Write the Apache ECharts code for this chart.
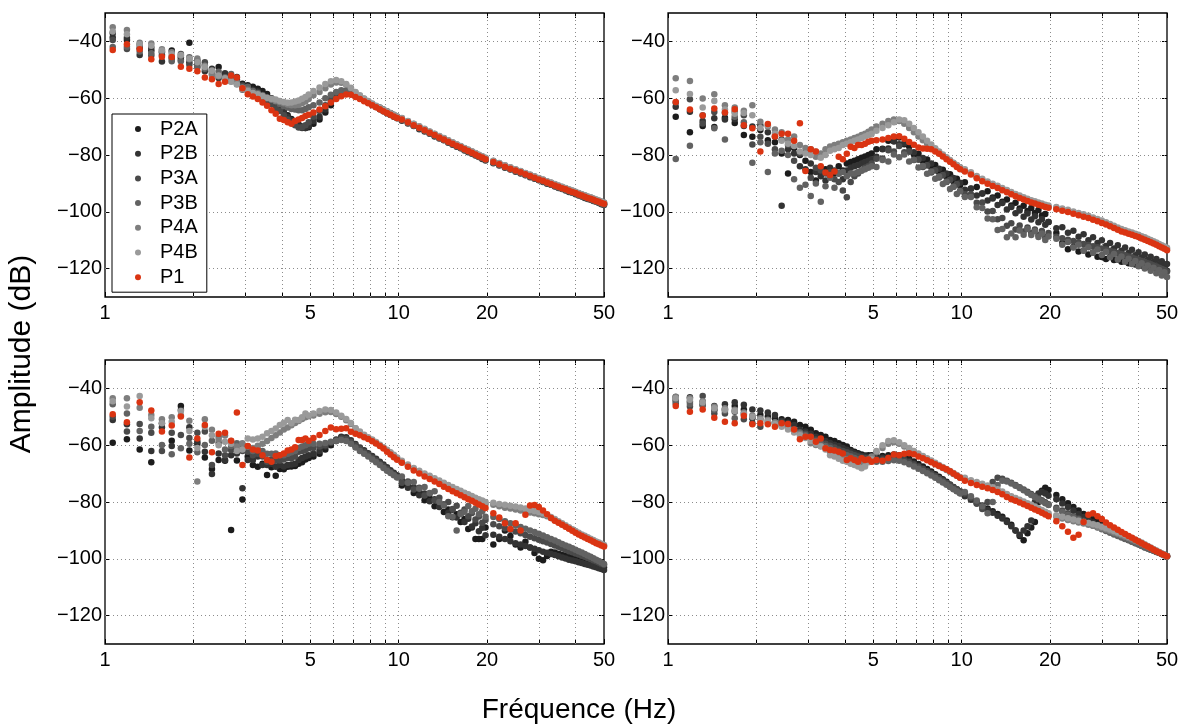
<!DOCTYPE html>
<html>
<head>
<meta charset="utf-8">
<script src="https://cdn.jsdelivr.net/npm/echarts@6/dist/echarts.min.js"></script>
<style>html,body{margin:0;padding:0;background:#fff}#c{width:1184px;height:724px}</style>
</head>
<body>
<div id="c"></div>
<script>
// Frequency grid (Hz) shared by every series
const freq = [1.0625,1.1875,1.3125,1.4375,1.5625,1.6875,1.8125,1.9375,2.0625,2.1875,2.3125,2.4375,2.5625,2.6875,2.8125,2.9375,3.0625,3.1875,3.3125,3.4375,3.5625,3.6875,3.8125,3.9375,4.0625,4.1875,4.3125,4.4375,4.5625,4.6875,4.8125,4.9375,
5.125,5.375,5.625,5.875,6.125,6.375,6.625,6.875,7.125,7.375,7.625,7.875,8.125,8.375,8.625,8.875,9.125,9.375,9.625,9.875,
10.25,10.75,11.25,11.75,12.25,12.75,13.25,13.75,14.25,14.75,15.25,15.75,16.25,16.75,17.25,17.75,18.25,18.75,19.25,19.75,
21,22,23,24,25,26,27,28,29,30,31,32,33,34,35,36,37,38,39,40,41,42,43,44,45,46,47,48,49,50];

const seriesNames = ['P2A','P2B','P3A','P3B','P4A','P4B','P1'];
const xTickValues = [1,2,3,4,5,6,7,8,9,10,20,30,40,50];
const xGridValues = [2,3,4,5,6,7,8,9,10,20,30,40];
const xLabelValues = [1,5,10,20,50];
const yTickValues = [-120,-100,-80,-60,-40];

// ---------- Panel top-left ----------
const tl_P2A = [-37,-39.5,-42.4,-43.2,-44.8,-43.2,-45.6,-40.5,-47.8,-48.3,-50.7,-49,-52.1,-53,-53.5,-54.9,-55.4,-56,-56.7,-57.5,-58.5,-60,-61.8,-63,-64.5,-66,-67.3,-68.3,-69.3,-70,-70.5,-70.2,
-69,-67.5,-65,-62.5,-60,-58,-57.4,-58,-59,-59.9,-60.7,-61.5,-62.3,-63,-63.7,-64.4,-65,-65.6,-66.2,-66.8,
-67.6,-68.4,-69.6,-70.4,-71.2,-72.3,-73,-73.7,-74.6,-75.3,-75.9,-76.8,-77.3,-77.9,-78.7,-79.2,-79.7,-80.5,-80.9,-81.4,
-82.6,-83.3,-84,-84.9,-85.5,-86,-86.9,-87.4,-87.9,-88.7,-89.1,-89.6,-90.3,-90.7,-91.1,-91.8,-92.1,-92.5,-93.1,-93.4,-93.8,-94.4,-94.7,-95,-95.5,-95.8,-96.1,-96.6,-96.9,-97.3];
const tl_P2B = [-38.5,-38.7,-44.8,-42.2,-47.1,-45.5,-46.5,-47.3,-46.7,-50.5,-49.6,-52.9,-51.2,-54,-52.5,-56,-56.5,-57,-57.6,-58.8,-59.6,-60.6,-62,-64,-65,-66.5,-67.8,-68.8,-69.8,-70.5,-70.5,-69.8,
-68,-66.5,-64,-61.5,-59.5,-58.2,-57.7,-58.2,-59.2,-60,-60.8,-61.6,-62.4,-63.1,-63.9,-64.6,-65.3,-65.9,-66.5,-67.1,
-67.9,-68.9,-69.8,-70.9,-71.7,-72.5,-73.5,-74.2,-74.8,-75.7,-76.4,-77.1,-77.6,-78.4,-79,-79.6,-80.2,-80.7,-81.4,-81.9,
-82.9,-83.7,-84.5,-85.1,-85.9,-86.5,-87.1,-87.8,-88.4,-88.9,-89.5,-90.1,-90.5,-91.1,-91.6,-92,-92.5,-93,-93.3,-93.8,-94.3,-94.6,-95.1,-95.5,-95.8,-96.2,-96.5,-96.9,-97.3,-97.6];
const tl_P3A = [-39.5,-42.7,-41.3,-45,-43.6,-46.2,-44.4,-48.2,-48.9,-47.3,-51.5,-51.8,-53,-52.3,-55,-55.5,-57.4,-58,-58.8,-59.5,-61,-62,-63.5,-64.5,-66,-67.5,-68.5,-69.5,-70.3,-70.2,-69.5,-68.5,
-66.5,-64.5,-62.5,-60.5,-59,-58.2,-57.8,-58.2,-59.1,-59.9,-60.7,-61.4,-62.2,-62.9,-63.3,-64,-64.6,-65.2,-65.8,-66.4,
-67.1,-68.1,-69.1,-70,-70.9,-71.8,-72.6,-73.4,-74.1,-74.9,-75.6,-76.3,-76.9,-77.6,-78.2,-78.8,-79.4,-80,-80.5,-81.1,
-82.1,-82.9,-83.7,-84.4,-85.1,-85.7,-86.4,-87,-87.6,-88.2,-88.7,-89.3,-89.8,-90.3,-90.8,-91.3,-91.7,-92.2,-92.6,-93,-93.5,-93.9,-94.3,-94.7,-95,-95.4,-95.8,-96.1,-96.5,-96.8];
const tl_P3B = [-42,-41.9,-43.6,-44.2,-43.8,-47,-47,-45.6,-49,-49.6,-50.2,-50.7,-52.6,-51.5,-54.2,-57,-56,-57.5,-58.2,-59,-59.8,-60.5,-61.2,-62,-62.8,-63.3,-63.8,-64,-64.2,-64.2,-63.8,-63.2,
-62.5,-61.5,-60,-58.8,-57.8,-57.2,-57.4,-58.2,-59.2,-60,-60.8,-61.5,-62.3,-63,-63.9,-64.6,-65.2,-65.8,-66.4,-67,
-67.7,-68.7,-69.7,-70.6,-71.5,-72.4,-73.2,-74,-74.7,-75.5,-76.2,-76.9,-77.5,-78.2,-78.8,-79.4,-80,-80.6,-81.1,-81.7,
-82.7,-83.5,-84.3,-85,-85.7,-86.3,-87,-87.6,-88.2,-88.8,-89.3,-89.9,-90.4,-90.9,-91.4,-91.9,-92.3,-92.8,-93.2,-93.6,-94.1,-94.5,-94.9,-95.3,-95.6,-96,-96.4,-96.7,-97.1,-97.4];
const tl_P4A = [-35,-36,-40.5,-40.7,-42.8,-43.8,-45,-46.3,-46,-48.6,-51.8,-52.3,-53.5,-53.8,-54.6,-56.2,-57,-58.4,-59,-59.4,-60,-60.5,-61,-61.3,-61.8,-62.2,-62.5,-62.5,-62.3,-61.8,-61.2,-60.3,
-59,-57.8,-56.5,-55.2,-54.5,-54.6,-55.3,-56.5,-58,-59.2,-60.2,-61.1,-62,-62.8,-63.5,-64.2,-64.8,-65.4,-66,-66.6,
-67.3,-68.3,-69.3,-70.2,-71.1,-72,-72.8,-73.6,-74.3,-75.1,-75.8,-76.5,-77.1,-77.8,-78.4,-79,-79.6,-80.2,-80.7,-81.3,
-82.3,-83.1,-83.9,-84.6,-85.3,-85.9,-86.6,-87.2,-87.8,-88.4,-88.9,-89.5,-90,-90.5,-91,-91.5,-91.9,-92.4,-92.8,-93.2,-93.7,-94.1,-94.5,-94.9,-95.2,-95.6,-96,-96.3,-96.7,-97];
const tl_P4B = [-36.5,-37.5,-41,-41.5,-43.2,-44.5,-44.8,-46,-47.3,-49,-50.3,-52,-53,-54.2,-55.2,-56.8,-57.5,-58.2,-58.6,-59.2,-59.8,-60.2,-60.5,-61,-61.3,-61.6,-61.5,-61.2,-60.8,-60.2,-59.6,-58.7,
-57.5,-56.2,-55,-54,-53.6,-54,-55,-56.3,-57.8,-59,-60.1,-61,-61.9,-62.7,-63.4,-64.1,-64.7,-65.3,-65.9,-66.5,
-67,-68,-69,-69.9,-70.8,-71.7,-72.5,-73.3,-74,-74.8,-75.5,-76.2,-76.8,-77.5,-78.1,-78.7,-79.3,-79.9,-80.4,-81,
-82,-82.8,-83.6,-84.3,-85,-85.6,-86.3,-86.9,-87.5,-88.1,-88.6,-89.2,-89.7,-90.2,-90.7,-91.2,-91.6,-92.1,-92.5,-92.9,-93.4,-93.8,-94.2,-94.6,-94.9,-95.3,-95.7,-96,-96.4,-96.7];
const tl_P1 = [-43,-41,-42.8,-46.3,-45.4,-45.5,-48.9,-49.6,-50.5,-52.7,-53.3,-55,-54.2,-52,-52.7,-56.5,-58.6,-59.4,-60.3,-61.5,-62.7,-64.2,-65.5,-67.2,-67.7,-68.5,-69,-68,-67.5,-67,-66.3,-65.8,
-65,-64,-62.8,-61.5,-60.3,-59.3,-58.7,-58.8,-59.6,-60.3,-61.1,-61.8,-62.5,-63.2,-63.9,-64.6,-65.2,-65.8,-66.4,-67,
-67.5,-68.5,-69.5,-70.4,-71.3,-72.2,-73,-73.8,-74.5,-75.3,-76,-76.7,-77.3,-78,-78.6,-79.2,-79.8,-80.4,-80.9,-81.5,
-82.5,-83.3,-84.1,-84.8,-85.5,-86.1,-86.8,-87.4,-88,-88.6,-89.1,-89.7,-90.2,-90.7,-91.2,-91.7,-92.1,-92.6,-93,-93.4,-93.9,-94.3,-94.7,-95.1,-95.4,-95.8,-96.2,-96.5,-96.9,-97.2];

// ---------- Panel top-right ----------
const tr_P2A = [-66.5,-72,-69.8,-70.1,-66.9,-68.7,-73,-73.6,-71.2,-74.8,-75.5,-79.5,-86.5,-77.5,-80,-82,-86,-89,-86.5,-85,-87.5,-86.5,-84,-85.5,-83,-82.5,-82,-81.5,-81,-80.5,-80,-79.5,
-78,-77.8,-75,-75.2,-73.8,-76.2,-77,-79.8,-79.6,-82.2,-81.6,-84.2,-83.5,-86,-85.2,-87.5,-86.8,-89.2,-88.4,-90.6,
-89.6,-91.9,-91.3,-93.6,-92.8,-95,-94.3,-96.5,-95.7,-97.8,-96.8,-98.8,-97.9,-99.7,-98.7,-100.4,-99.4,-101.3,-100.8,-103.6,
-107.5,-111,-113.2,-112.4,-114,-113.6,-115,-114.3,-115.8,-115.9,-116.6,-115.8,-117,-116.8,-117.6,-117.2,-118.1,-117.8,-118.6,-118.3,-119,-118.7,-119.4,-119.1,-119.8,-119.5,-120.3,-120,-120.6,-120.8];
const tr_P2B = [-63,-64.8,-68,-67.1,-67.5,-67.4,-69.8,-70,-69.5,-72,-73.5,-97.9,-78,-79.5,-84,-85,-83,-86,-87.5,-89,-84.5,-85.5,-86.5,-88.5,-85.5,-84.5,-84,-83.5,-83,-82.5,-82,-81.5,
-80.6,-78,-77.7,-75.2,-76.2,-75.9,-78.8,-79,-81.6,-81.1,-83.6,-83,-85.4,-84.8,-87.1,-86.5,-88.8,-88.1,-90.4,-89.8,
-92.2,-91.8,-94.3,-93.6,-96,-95.3,-97.6,-96.9,-99.2,-98.3,-100.5,-99.5,-101.7,-100.6,-102.7,-101.6,-103.7,-102.6,-104.6,-103.6,
-105.8,-105.4,-107.4,-106.7,-108.8,-107.9,-110,-109,-111,-110,-112,-111,-112.9,-111.8,-113.7,-112.6,-114.5,-113.4,-115.3,-114.2,-116.1,-115,-116.9,-115.8,-117.7,-116.6,-118.5,-117.4,-119.2,-118.4];
const tr_P3A = [-61.5,-60.4,-68.9,-64.9,-65.1,-64.8,-66,-76.3,-73.6,-76,-78,-74.5,-76.5,-82,-79.5,-79,-88,-84.5,-85.5,-86.5,-86,-88.5,-89.5,-92.5,-94.9,-89.5,-87.5,-86.5,-85.5,-84.5,-84,-83,
-81.3,-81.2,-78.3,-78.8,-76.8,-79,-78.8,-81.8,-81.6,-84.2,-83.6,-86.2,-85.4,-87.9,-87,-89.5,-88.7,-91.2,-90.2,-92.6,
-93.8,-93.8,-96.8,-96.7,-99.9,-99.7,-102.6,-102.2,-104.9,-104,-106.2,-104.8,-106.9,-105.5,-107.5,-106.2,-108.2,-106.8,-108.9,-107.5,
-108.8,-109.3,-109.8,-110.3,-110.8,-111.3,-111.7,-112.1,-112.5,-112.9,-113.3,-113.7,-114.1,-114.5,-114.9,-115.3,-115.7,-116.1,-116.5,-116.9,-117.3,-117.7,-118.1,-118.5,-118.9,-119.3,-119.7,-120.1,-120.5,-121];
const tr_P3B = [-81.4,-76.7,-66,-70.6,-74.5,-66.5,-68.5,-82.7,-75.5,-86,-79.5,-78.5,-80,-88.5,-91.5,-90.5,-94.4,-90,-96.5,-91,-88,-91.5,-86.5,-86,-87.5,-86.5,-86.5,-86,-85.5,-85,-84.5,-84,
-84.2,-81.8,-82.3,-79.8,-80.8,-79.8,-82.3,-81.7,-84.4,-83.9,-86.6,-85.8,-88.4,-87.6,-90.2,-89.4,-92,-91.2,-93.7,-92.8,
-94.8,-94.8,-98.4,-98.7,-102.4,-102.6,-106.4,-106.1,-109,-107.6,-109,-106.6,-108.1,-106.1,-108.2,-106.8,-108.9,-107.6,-109.9,-108.7,
-109.5,-111.6,-110.6,-112.6,-111.6,-113.6,-112.5,-114.4,-113.3,-115.2,-114.1,-116,-114.9,-116.8,-115.7,-117.6,-116.5,-118.4,-117.3,-119.2,-118.1,-120,-118.9,-120.8,-119.7,-121.6,-120.5,-122.4,-121.3,-123];
const tr_P4A = [-53,-53.9,-60.1,-58.6,-62.5,-63.3,-64.4,-62.5,-68.3,-70,-71,-72,-74.5,-73.5,-76.5,-77.5,-78,-80.6,-79.5,-78,-77,-76.5,-76,-75.5,-75,-74.5,-74,-73.6,-73,-72.5,-71.8,-71,
-70,-69,-68,-67.5,-68,-69,-70.5,-72,-73.5,-74.8,-76,-77,-78,-79,-80,-81,-82,-82.8,-83.6,-84.4,
-85.4,-86.5,-87.8,-88.8,-89.7,-90.5,-91.2,-92,-92.7,-93.4,-94.1,-94.7,-95.3,-95.8,-96.3,-96.7,-97.1,-97.5,-97.9,-98.2,
-98.7,-99.2,-99.7,-100.3,-100.8,-101.3,-101.8,-102.4,-102.9,-103.5,-104.1,-104.7,-105.3,-105.9,-106.5,-106.9,-107.3,-107.7,-108.1,-108.5,-109,-109.4,-109.9,-110.3,-110.8,-111.2,-111.7,-112.2,-112.6,-113.1];
const tr_P4B = [-57.2,-58.5,-63.3,-61,-64,-65.5,-65.2,-66,-70.5,-69.5,-72.5,-75,-76,-76.8,-78.8,-79.5,-80,-78.8,-81,-80,-78.5,-78,-77.5,-76.5,-76,-75.5,-75,-74.5,-74,-73.5,-73,-72.5,
-71.5,-70.5,-69.5,-68.5,-67.5,-67.8,-69,-70.5,-72,-73.5,-75,-76.3,-77.6,-78.8,-79.8,-80.8,-81.8,-82.7,-83.5,-84.3,
-85,-86.1,-87.4,-88.4,-89.3,-90.1,-90.8,-91.6,-92.3,-93,-93.7,-94.3,-94.9,-95.4,-95.9,-96.3,-96.7,-97.1,-97.5,-97.8,
-98.3,-98.8,-99.3,-99.9,-100.4,-100.9,-101.4,-102,-102.5,-103.1,-103.7,-104.3,-104.9,-105.5,-106.1,-106.5,-106.9,-107.3,-107.7,-108.1,-108.6,-109,-109.5,-109.9,-110.4,-110.8,-111.3,-111.8,-112.2,-112.7];
const tr_P1 = [-61.3,-64,-66.1,-63.6,-65,-63.9,-69.5,-70.6,-78.8,-69.1,-73.5,-72.5,-72.5,-75,-68.8,-85.6,-78,-78.8,-84,-86.2,-87,-85.8,-80.6,-81.5,-79.6,-77.1,-77.5,-76.5,-76.5,-76,-75.3,-75,
-74.8,-74.5,-74,-73.5,-73.4,-74.3,-75.4,-76.4,-77.4,-77.7,-77.8,-78,-78.8,-79.6,-80.5,-81.5,-82.4,-83.3,-84.2,-85,
-85.8,-86.9,-88.2,-89.2,-90.1,-90.9,-91.6,-92.4,-93.1,-93.8,-94.5,-95.1,-95.7,-96.2,-96.7,-97.1,-97.5,-97.9,-98.3,-98.6,
-99.1,-99.6,-100.1,-100.7,-101.2,-101.7,-102.2,-102.8,-103.3,-103.9,-104.5,-105.1,-105.7,-106.3,-106.9,-107.3,-107.7,-108.1,-108.5,-108.9,-109.4,-109.8,-110.3,-110.7,-111.2,-111.6,-112.1,-112.6,-113,-113.5];

// ---------- Panel bottom-left ----------
const bl_P2A = [-59.1,-57.9,-61.5,-66,-52.3,-58.4,-46.2,-61.9,-59.6,-64.3,-68.4,-65.2,-65.5,-89.9,-65.4,-79.1,-64,-67,-67.6,-66.5,-70.5,-67.8,-70.8,-68.4,-68.5,-67.6,-67.5,-67.3,-66.5,-66,-65,-64.5,
-64,-63,-61.5,-60,-58.5,-57.3,-57.5,-58.8,-60.2,-61.3,-62.3,-63.3,-64.3,-65.3,-66.3,-67.3,-68.3,-69.3,-70.2,-71.1,
-74.2,-74.1,-76.8,-76.5,-79.4,-78.8,-81.5,-80.8,-83.5,-82.6,-85.4,-84.3,-87,-86,-89.5,-89,-93,-93,-93,-89,
-95,-93,-90,-92,-95,-96,-94,-96,-98,-100,-100.5,-99,-97.5,-97.8,-98.2,-98.6,-99,-99.4,-99.7,-100,-100.3,-100.6,-100.9,-101.2,-101.5,-101.8,-102.1,-102.4,-102.7,-103];
const bl_P2B = [-51.1,-52.6,-57.6,-62,-53.7,-60.3,-47.6,-53.7,-58.8,-62.3,-70.1,-62.9,-65.2,-63.5,-62.9,-75.2,-65.2,-65.2,-64,-67,-67,-66.5,-67.6,-67,-67.5,-67,-66.8,-66.5,-65.2,-64.5,-64,-63.5,
-63,-62,-60.5,-59.2,-58,-57,-57.2,-58.3,-59.6,-60.8,-61.8,-62.8,-63.8,-64.8,-65.8,-66.8,-67.8,-68.8,-69.7,-70.6,
-72.3,-75,-74.8,-77.6,-77,-79.7,-79,-81.8,-80.9,-83.8,-82.7,-85.5,-84.2,-87,-85.9,-88.6,-87.5,-90.3,-89.1,-91.7,
-91.5,-92.2,-93,-93.8,-94.5,-95,-95.5,-96,-96.5,-97,-97.5,-97.9,-98.3,-98.7,-99.1,-99.5,-99.9,-100.3,-100.6,-100.9,-101.2,-101.5,-101.8,-102.1,-102.4,-102.7,-103,-103.3,-103.6,-103.9];
const bl_P3A = [-50,-55.2,-52.5,-55.6,-62,-55.6,-56.4,-57.5,-55.6,-55.2,-67,-59.1,-63.5,-61.7,-61.1,-62,-62.3,-63.5,-63,-64,-65.8,-65,-65.5,-65.4,-65,-64.5,-64.6,-64,-62.3,-62,-61.7,-61.1,
-61,-60.5,-60,-59,-58.3,-57.6,-57.8,-58.8,-60,-61.2,-62.3,-63.3,-64.4,-65.4,-66.4,-67.4,-68.4,-69.4,-70.3,-71.2,
-73.2,-72.8,-75.6,-75,-77.7,-77,-79.4,-78.5,-80.9,-80,-82.5,-81.3,-83.8,-82.6,-85,-83.9,-86.2,-85.1,-87.3,-86.3,
-87.8,-88.5,-89.2,-89.8,-90.4,-91,-91.6,-92.2,-92.8,-93.3,-93.8,-94.3,-94.8,-95.3,-95.8,-96.3,-96.8,-97.3,-97.7,-98.1,-98.5,-98.9,-99.3,-99.7,-100.1,-100.5,-100.9,-101.3,-101.7,-102.1];
const bl_P3B = [-45.6,-48.8,-55,-53.5,-59.9,-63.2,-61.1,-59.5,-62.5,-59.9,-58.4,-57,-61.5,-60.3,-59.3,-60.5,-60.5,-62,-61.5,-62,-63,-63,-62.9,-63.5,-63.5,-63,-62.5,-62,-61,-60.5,-60,-59.5,
-59.5,-59.5,-59.2,-58.8,-58.5,-58.2,-58.5,-59.5,-60.8,-62,-63,-64,-65,-66,-67,-68,-69,-69.8,-70.6,-71.4,
-71,-73.2,-73,-75.3,-74.7,-76.8,-76.2,-80,-81.2,-85,-85.2,-90,-84.2,-83.4,-81.4,-83.3,-82.4,-84.3,-83.3,-85.2,
-85.3,-86,-86.8,-87.5,-88.2,-88.8,-89.4,-90,-90.6,-91.2,-91.8,-92.4,-93,-93.6,-94.2,-94.8,-95.3,-95.8,-96.3,-96.8,-97.3,-97.8,-98.3,-98.8,-99.3,-99.8,-100.3,-100.8,-101.3,-101.8];
const bl_P4A = [-43.5,-43.5,-46.8,-49.4,-50.9,-50.2,-49.5,-51.4,-72.8,-50.9,-54.6,-58,-56.6,-58.5,-60.5,-59.3,-60.5,-61,-60.2,-59.5,-58.5,-57.5,-56.5,-55.5,-54.5,-53.8,-53,-52.2,-51.5,-50.8,-50.2,-49.8,
-49.5,-48.9,-48.4,-48.3,-49,-50,-51.2,-52.5,-54,-55.4,-56.5,-57.5,-58.3,-59.2,-60,-60.9,-61.8,-62.7,-63.6,-64.5,
-65.9,-67.2,-68.4,-69.5,-70.4,-71.3,-72.1,-73,-73.8,-74.6,-75.3,-76,-76.6,-77.3,-77.9,-78.5,-79.1,-79.7,-80.2,-80.7,
-81,-81.5,-82,-82.3,-82.6,-83,-83.3,-83.7,-84,-84.3,-84.6,-85,-85.6,-86.4,-87.1,-87.8,-88.5,-89.2,-89.9,-90.5,-91.1,-91.7,-92.2,-92.7,-93.2,-93.7,-94.2,-94.6,-95,-95.4];
const bl_P4B = [-44.5,-46.4,-42.7,-50.5,-52.3,-51.7,-48,-55,-61,-53.5,-56.5,-60,-58.8,-59.5,-62,-61.5,-57.6,-58,-57.6,-57,-55.8,-55,-54.1,-52.9,-52.1,-51.1,-52.3,-51,-51.1,-50.2,-48.8,-49.5,
-48.8,-48,-47.4,-47.6,-48.5,-49.6,-50.8,-52.2,-54,-55.2,-56.3,-57.2,-58,-58.9,-59.8,-60.7,-61.6,-62.5,-63.4,-64.3,
-65.5,-66.8,-68,-69,-70,-70.8,-71.6,-72.4,-73.2,-74,-74.7,-75.4,-76,-76.7,-77.3,-77.9,-78.5,-79,-79.5,-80,
-80.3,-80.7,-81,-81.3,-81.6,-81.9,-82.3,-82.8,-83.2,-83.5,-84,-84.6,-85.3,-86,-86.8,-87.5,-88.2,-88.9,-89.6,-90.2,-90.8,-91.4,-91.9,-92.4,-92.9,-93.4,-93.9,-94.3,-94.7,-95.1];
const bl_P1 = [-49.1,-51.9,-44.9,-47.8,-55.2,-53.1,-49.9,-64.3,-57.6,-52.9,-62.5,-56,-55.6,-58.4,-48.5,-67,-60.3,-61.5,-61.9,-63.5,-65.2,-65.8,-63.8,-63.5,-62.9,-61.9,-61.5,-60.7,-58.2,-58.2,-57.6,-58.4,
-57.5,-56.4,-55,-53.8,-54.4,-54.2,-54,-55.3,-56,-56.5,-57.2,-57.8,-58.6,-59.4,-60.3,-61.2,-62.3,-63.3,-64.2,-65.1,
-66.2,-67.6,-68.9,-70,-71,-71.9,-72.8,-73.7,-74.6,-75.4,-76.2,-76.9,-77.6,-78.3,-79,-79.6,-80.3,-80.9,-81.5,-82.1,
-84,-85.5,-87.5,-89.5,-87.5,-90,-84.5,-81.2,-81.1,-81.8,-83,-84.3,-85.6,-86.6,-87.3,-88,-88.7,-89.4,-90.1,-90.8,-91.4,-92,-92.5,-93,-93.5,-94,-94.5,-94.9,-95.3,-95.7];

// ---------- Panel bottom-right ----------
const br_P2A = [-43,-44.7,-45.8,-47.6,-47.4,-46.2,-47.4,-50.5,-49.4,-49.9,-50.5,-50.9,-51.1,-51.7,-52.9,-53.5,-54.6,-55.8,-56.4,-57,-58.2,-58.5,-59.3,-59.9,-60.5,-61.7,-62.3,-62.8,-63.3,-63.6,-63.5,-63.5,
-64,-63.8,-63.5,-63.3,-63.5,-64,-64.8,-65.7,-66.6,-67.5,-68.4,-69.3,-70.2,-71.1,-72,-72.9,-73.8,-74.7,-75.5,-76.3,
-77.5,-78.8,-80,-81.2,-82.3,-83.3,-84.2,-85.2,-86.5,-88,-90,-92,-93.5,-91,-89,-87,-80,-76,-75,-75.8,
-77.5,-79,-80.4,-81.8,-83,-84.2,-85.2,-86.1,-87,-87.8,-88.6,-89.3,-90,-90.7,-91.4,-92,-92.6,-93.2,-93.8,-94.3,-94.8,-95.3,-95.8,-96.3,-96.8,-97.3,-97.8,-98.2,-98.6,-99];
const br_P2B = [-44,-43.1,-44.7,-46.2,-45.6,-44.9,-45.8,-47.4,-47.8,-48.5,-49.4,-51.5,-52.1,-52.9,-54.6,-55.2,-56,-57,-57.8,-58.5,-59.2,-59.8,-60.3,-61,-61.6,-62.2,-62.8,-63.3,-63.8,-64,-64.2,-64.3,
-64.6,-64.4,-64.2,-64,-64.2,-64.7,-65.5,-66.4,-67.3,-68.2,-69.1,-70,-70.9,-71.8,-72.7,-73.6,-74.5,-75.3,-76.1,-76.9,
-78,-79.2,-80.5,-81.7,-82.8,-83.8,-84.8,-85.8,-87,-88.5,-90,-91.5,-90,-88.5,-86.5,-80,-77,-76.5,-77,-77.8,
-79,-80.5,-81.8,-83,-84.2,-85.3,-86.3,-87.2,-88,-88.8,-89.5,-90.2,-90.9,-91.5,-92.1,-92.7,-93.3,-93.8,-94.3,-94.8,-95.3,-95.8,-96.3,-96.7,-97.1,-97.5,-97.9,-98.3,-98.7,-99.1];
const br_P3A = [-45.3,-46.4,-42.7,-48.8,-48.8,-48.2,-50.9,-52.3,-53.5,-52.1,-52.3,-52,-53.5,-55.2,-55.5,-56,-57,-58,-59,-59.5,-60.2,-60.8,-61.5,-62,-62.5,-63,-63.5,-64,-64.3,-64.5,-64.6,-64.8,
-65,-65,-64.8,-64.5,-64.8,-65.3,-66,-66.8,-67.6,-68.4,-69.2,-70,-70.8,-71.6,-72.4,-73.2,-74,-74.8,-75.5,-76.2,
-77,-78.5,-80.5,-82.5,-80,-73,-71.5,-71.8,-72.5,-73.2,-74,-74.8,-75.6,-76.4,-77.2,-78,-78.7,-79.4,-80.1,-80.8,
-82,-83,-84,-85,-85.8,-86.6,-87.3,-88,-88.7,-89.3,-89.9,-90.5,-91.1,-91.7,-92.3,-92.9,-93.4,-93.9,-94.4,-94.9,-95.4,-95.9,-96.3,-96.7,-97.1,-97.5,-97.9,-98.3,-98.7,-99.1];
const br_P3B = [-44.5,-45.5,-46,-47.5,-48,-50.5,-49,-50,-51,-51.5,-52,-53,-53.5,-54.5,-55.5,-56.5,-57.5,-58.5,-59.5,-60.3,-61,-61.8,-62.5,-63,-63.5,-64,-64.5,-65,-65.2,-65.3,-65.5,-65.6,
-65.8,-65.8,-65.6,-65.3,-65.5,-66,-66.7,-67.5,-68.3,-69.1,-69.9,-70.7,-71.5,-72.3,-73.1,-73.9,-74.7,-75.5,-76.2,-76.9,
-76.5,-78,-79.5,-81.5,-84,-80,-74,-72.5,-72.8,-73.5,-74.3,-75.1,-75.9,-76.7,-77.5,-78.3,-79,-79.7,-80.4,-81.1,
-82.5,-83.5,-84.5,-85.4,-86.2,-87,-87.7,-88.4,-89,-89.6,-90.2,-90.8,-91.4,-92,-92.5,-93,-93.5,-94,-94.5,-95,-95.5,-96,-96.4,-96.8,-97.2,-97.6,-98,-98.4,-98.8,-99.2];
const br_P4A = [-42.9,-43.5,-44.5,-46.5,-47,-47.5,-48.5,-49.5,-50.5,-51,-52,-53,-54,-55,-56,-57,-59.3,-59.9,-60.3,-61,-62.5,-63,-63.8,-64.5,-65,-65.5,-66,-66.3,-66.5,-66,-65,-64,
-62.5,-61,-59.5,-59,-59.5,-60.5,-61.5,-62.5,-63.4,-64.2,-65,-65.8,-66.6,-67.3,-68,-68.7,-69.4,-70.1,-70.8,-71.5,
-72,-72.8,-73.5,-74.1,-74.7,-75.3,-76,-76.8,-77.7,-78.5,-79.1,-79.7,-80.3,-80.9,-81.5,-82.1,-82.7,-83.3,-83.9,-84.5,
-85.2,-85.8,-86.3,-86.8,-87.2,-87.6,-88,-88.4,-88.8,-89.2,-89.7,-90.2,-90.7,-91.2,-91.7,-92.2,-92.7,-93.2,-93.7,-94.2,-94.7,-95.2,-95.7,-96.2,-96.7,-97.2,-97.7,-98.2,-98.7,-99.2];
const br_P4B = [-43.5,-44,-45,-47,-47.5,-48,-49,-50,-51,-51.5,-52.5,-53.5,-54.5,-55.5,-56.5,-57.5,-58.5,-59.5,-60.5,-61.5,-63.5,-64,-64.8,-65.5,-65.8,-66.5,-67,-67.5,-68.1,-67.5,-66,-65,
-62,-60,-58.5,-58.3,-59,-60,-61,-62,-62.9,-63.8,-64.6,-65.4,-66.2,-67,-67.7,-68.4,-69.1,-69.8,-70.5,-71.2,
-71.5,-72.3,-73,-73.6,-74.2,-74.8,-75.5,-76.3,-77.2,-78,-78.6,-79.2,-79.8,-80.4,-81,-81.6,-82.2,-82.8,-83.4,-84,
-84.7,-85.2,-85.7,-86.2,-86.6,-87,-87.4,-87.8,-88.2,-88.7,-89.2,-89.7,-90.2,-90.7,-91.2,-91.7,-92.2,-92.7,-93.2,-93.7,-94.3,-94.9,-95.5,-96,-96.6,-97.1,-97.6,-98.1,-98.6,-99];
const br_P1 = [-46.2,-48.2,-47.4,-50.3,-51.7,-52.3,-49.6,-52.6,-52.3,-52.6,-53.5,-52.3,-52.5,-54.5,-57.9,-57,-57,-58.8,-57.6,-61.1,-61.7,-61.9,-62.3,-62.9,-65.2,-64.6,-65.2,-65.8,-64.6,-65.2,-65,-65.8,
-65.2,-65.5,-64.5,-63.3,-63.5,-63,-62.8,-63.2,-64,-64.6,-65.3,-66,-66.7,-67.3,-67.9,-68.5,-69.2,-70,-70.8,-71.5,
-72.5,-73.3,-74,-74.6,-75.2,-75.8,-76.5,-77.3,-78.2,-79,-79.6,-80.2,-80.8,-81.4,-82,-82.6,-83.2,-83.8,-84.4,-85,
-86.8,-88.5,-90.5,-92.6,-91.5,-87,-84.5,-84,-85,-86,-87.2,-88.2,-89,-89.8,-90.6,-91.3,-92,-92.6,-93.3,-93.9,-94.5,-95.1,-95.7,-96.2,-96.8,-97.3,-97.8,-98.3,-98.7,-99.1];

const panels = [
  [tl_P2A, tl_P2B, tl_P3A, tl_P3B, tl_P4A, tl_P4B, tl_P1],
  [tr_P2A, tr_P2B, tr_P3A, tr_P3B, tr_P4A, tr_P4B, tr_P1],
  [bl_P2A, bl_P2B, bl_P3A, bl_P3B, bl_P4A, bl_P4B, bl_P1],
  [br_P2A, br_P2B, br_P3A, br_P3B, br_P4A, br_P4B, br_P1]
];

const colors = ['#1c1c1c', '#333333', '#4a4a4a', '#626262', '#7e7e7e', '#9a9a9a', '#da3412'];
const FONT = '"Liberation Sans", Arial, Helvetica, sans-serif';
const gridBoxes = [
  {left: 105, top: 13}, {left: 668, top: 13},
  {left: 105, top: 360}, {left: 668, top: 360}
];

const grids = gridBoxes.map(b => ({
  left: b.left, top: b.top, width: 499, height: 284,
  show: true, borderColor: '#000', borderWidth: 1.3, backgroundColor: 'transparent'
}));

const xAxes = [], yAxes = [];
gridBoxes.forEach((b, i) => {
  const tick = {show: true, inside: true, length: 5, lineStyle: {color: '#000', width: 1}};
  xAxes.push({
    type: 'log', logBase: 10, min: 1, max: 50, gridIndex: i, position: 'bottom',
    axisLine: {show: false},
    axisTick: Object.assign({customValues: xTickValues}, tick),
    axisLabel: {customValues: xLabelValues, fontSize: 20, color: '#000', fontFamily: FONT, margin: 6,
      formatter: v => String(Math.round(v))},
    splitLine: {show: false}, minorSplitLine: {show: false}
  });
  xAxes.push({
    type: 'log', logBase: 10, min: 1, max: 50, gridIndex: i, position: 'top',
    axisLine: {show: false},
    axisTick: Object.assign({customValues: xTickValues}, tick),
    axisLabel: {show: false}, splitLine: {show: false}
  });
  yAxes.push({
    type: 'value', min: -130, max: -30, gridIndex: i, position: 'left',
    axisLine: {show: false},
    axisTick: Object.assign({customValues: yTickValues}, tick),
    axisLabel: {customValues: yTickValues, fontSize: 20, color: '#000', fontFamily: FONT, margin: 3,
      formatter: v => (v < 0 ? '\u2212' + Math.abs(v) : String(v))},
    splitLine: {show: false}
  });
  yAxes.push({
    type: 'value', min: -130, max: -30, gridIndex: i, position: 'right',
    axisLine: {show: false},
    axisTick: Object.assign({customValues: yTickValues}, tick),
    axisLabel: {show: false}, splitLine: {show: false}
  });
});

const series = [];
// dotted grid lines, placed through the axes' own scales
gridBoxes.forEach((b, p) => {
  series.push({
    type: 'scatter', name: 'grid', xAxisIndex: 2 * p, yAxisIndex: 2 * p, data: [],
    silent: true, z: 1,
    markLine: {
      silent: true, symbol: 'none', animation: false, z: 1,
      label: {show: false},
      lineStyle: {color: '#8c8c8c', width: 1, type: [1, 3]},
      emphasis: {disabled: true},
      data: xGridValues.map(v => ({xAxis: v})).concat(yTickValues.map(v => ({yAxis: v})))
    }
  });
});
panels.forEach((arrs, p) => {
  arrs.forEach((vals, s) => {
    series.push({
      type: 'scatter', name: seriesNames[s],
      xAxisIndex: 2 * p, yAxisIndex: 2 * p,
      symbol: 'circle', symbolSize: 6.5, z: 2,
      itemStyle: {color: colors[s], opacity: 1},
      silent: true, animation: false,
      data: freq.map((f, i) => [f, vals[i]]).filter(d => d[1] !== undefined)
    });
  });
});

const chart = echarts.init(document.getElementById('c'), null, {renderer: 'canvas'});
chart.setOption({
  animation: false,
  backgroundColor: '#fff',
  grid: grids,
  xAxis: xAxes,
  yAxis: yAxes,
  legend: {
    data: seriesNames, orient: 'vertical', left: 112, top: 114,
    icon: 'circle', itemWidth: 6, itemHeight: 6, itemGap: 4.7,
    padding: [5, 9, 5, 23], backgroundColor: '#fff', borderColor: '#000', borderWidth: 1,
    selectedMode: false,
    textStyle: {fontSize: 20, lineHeight: 20, color: '#000', fontFamily: FONT, padding: [0, 0, 0, 14]}
  },
  graphic: [
    {type: 'text', x: 22, y: 354, rotation: Math.PI / 2,
      style: {text: 'Amplitude (dB)', font: '30px ' + FONT, fill: '#000', textAlign: 'center', textVerticalAlign: 'middle'}},
    {type: 'text', x: 579, y: 710,
      style: {text: 'Fréquence (Hz)', font: '28px ' + FONT, fill: '#000', textAlign: 'center', textVerticalAlign: 'middle'}}
  ],
  series: series
});
</script>
</body>
</html>
